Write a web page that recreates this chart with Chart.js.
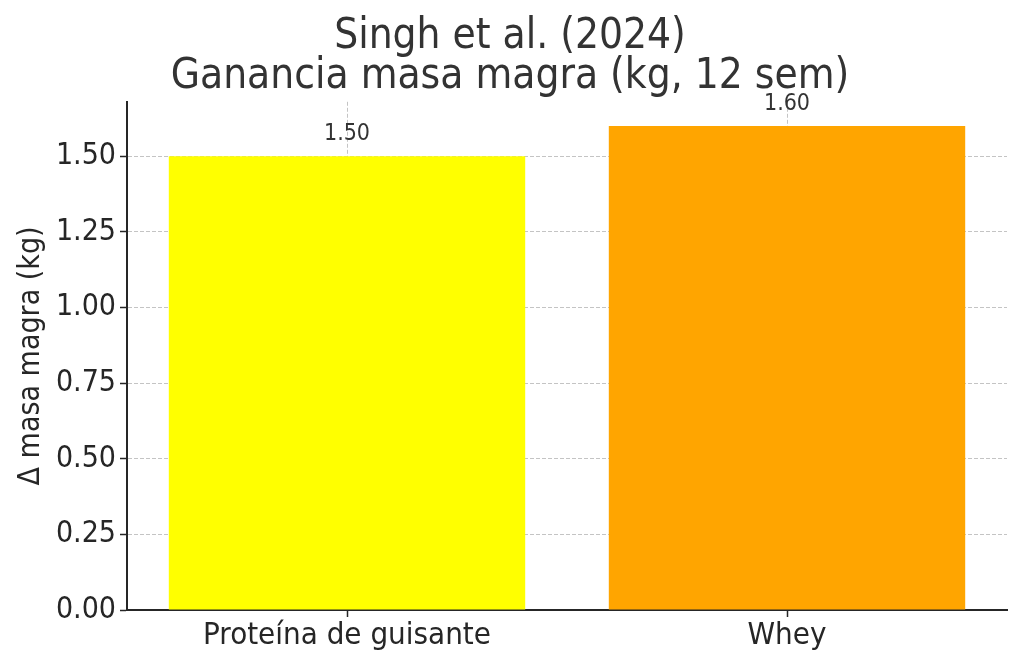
<!DOCTYPE html>
<html><head><meta charset="utf-8">
<script src="https://cdn.jsdelivr.net/npm/chart.js@4"></script>
<style>html,body{margin:0;padding:0;background:#fff}#wrap{width:1024px;height:665px}</style>
</head><body><div id="wrap"><canvas id="c"></canvas></div>
<script>
const categories = ["Proteína de guisante", "Whey"];
const values = [1.50, 1.60];
const barColors = ["#FFFF00", "#FFA500"];
const titleLines = ["Singh et al. (2024)", "Ganancia masa magra (kg, 12 sem)"];
const yTitle = "Δ masa magra (kg)";
const yTicks = [0, 0.25, 0.5, 0.75, 1.0, 1.25, 1.5];

const FONT = '"DejaVu Sans Condensed", "DejaVu Sans"';

const valueLabels = {
  id: 'valueLabels',
  afterDatasetsDraw(chart) {
    const ctx = chart.ctx;
    const meta = chart.getDatasetMeta(0);
    ctx.save();
    ctx.font = '23px ' + FONT;
    ctx.fillStyle = '#333';
    ctx.textAlign = 'center';
    ctx.textBaseline = 'middle';
    meta.data.forEach((bar, i) => {
      ctx.fillText(values[i].toFixed(2), bar.x, bar.y - 22);
    });
    ctx.restore();
  }
};

Chart.defaults.font.family = FONT;
Chart.defaults.color = '#262626';
const gridOpts = { color: 'rgba(176,176,176,0.75)', tickLength: 7,
  tickColor: '#262626', tickBorderDash: [], tickWidth: 1.5, lineWidth: 1, offset: false };
const borderOpts = { display: true, color: '#262626', width: 2, dash: [4, 2] };
new Chart(document.getElementById('c'), {
  type: 'bar',
  data: {
    labels: categories,
    datasets: [{ data: values, backgroundColor: barColors, borderWidth: 0,
      barPercentage: 0.81, categoryPercentage: 1 }]
  },
  options: {
    responsive: true, maintainAspectRatio: false, animation: false,
    layout: { padding: { top: 0, right: 17, bottom: 0, left: 13 } },
    plugins: {
      legend: { display: false }, tooltip: { enabled: false },
      title: { display: true, text: titleLines, color: '#333',
        font: { size: 42, weight: 'normal', lineHeight: 0.95 }, padding: { top: 17, bottom: 5 } }
    },
    scales: {
      x: {
        z: 1,
        afterFit(s) { s.height = 55; },
        grid: gridOpts,
        border: borderOpts,
        ticks: { color: '#262626', font: { size: 31 }, padding: 0 }
      },
      y: {
        z: 1,
        min: 0, max: 1.68,
        afterFit(s) { s.width = 114; },
        afterBuildTicks(s) { s.ticks = yTicks.map(v => ({ value: v })); },
        grid: gridOpts,
        border: borderOpts,
        ticks: { color: '#262626', font: { size: 30 }, padding: 4,
          callback: v => Number(v).toFixed(2) },
        title: { display: true, text: yTitle, color: '#262626', font: { size: 30 }, padding: { top: 0, bottom: 0 } }
      }
    }
  },
  plugins: [valueLabels]
});
</script></body></html>
